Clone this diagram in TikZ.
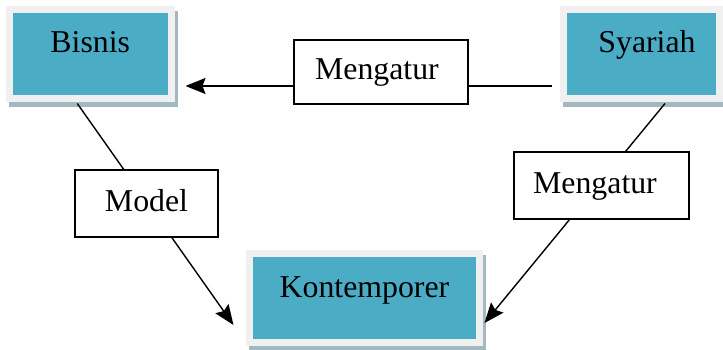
\documentclass[tikz,border=0pt]{standalone}
\usepackage{fontspec}
\setmainfont{Liberation Serif}
\usetikzlibrary{arrows.meta,shadows}
\definecolor{tealbox}{HTML}{4BACC6}
\definecolor{framegray}{HTML}{F0F0F0}
\definecolor{shadowc}{HTML}{A3B9C1}
\tikzset{
  mainbox/.style={draw=framegray, line width=7pt, fill=tealbox, inner sep=0pt,
    minimum height=89pt, text height=22pt, text depth=24pt,
    drop shadow={shadow xshift=3pt, shadow yshift=-5pt, fill=shadowc, draw=shadowc, line width=7pt, opacity=1}},
  labelbox/.style={draw=black, line width=1.3pt, fill=white, inner sep=0pt,
    text height=22pt, text depth=7pt},
  conn/.style={draw=black, line width=1.4pt},
  arr/.style={conn, -{Stealth[length=20pt,width=16pt,inset=3pt]}}
}
\begin{document}
\begin{tikzpicture}[x=1pt,y=1pt,
  every node/.style={font=\fontsize{31.8}{36}\selectfont}]
\useasboundingbox (0,0) rectangle (723,349);
% main boxes
\node[mainbox, minimum width=162.5pt] (bi) at (90.25,295) {Bisnis};
\node[mainbox, minimum width=156pt] (sy) at (641.5,295) {\hspace*{11pt}Syariah};
\node[mainbox, minimum width=230pt] (kt) at (364.5,51) {Kontemporer};
% connectors
\draw[arr, shorten <=8.5pt, shorten >=10.5pt] ([yshift=-32pt]sy.west) -- ([yshift=-32pt]bi.east);
\draw[arr] ([xshift=-13pt,yshift=-1.5pt]bi.south) -- ([xshift=-12.5pt,yshift=-27pt]kt.west);
\draw[arr] ([xshift=23.5pt,yshift=-1.5pt]sy.south) -- ([xshift=1.5pt,yshift=-25pt]kt.east);
% label boxes
\node[labelbox, minimum width=174pt, minimum height=64pt] (m1) at (381,277) {Mengatur\hspace*{8pt}};
\node[labelbox, minimum width=143pt, minimum height=67pt] (md) at (146.5,145.5) {Model};
\node[labelbox, minimum width=175pt, minimum height=67pt] (m2) at (601.5,163.5) {Mengatur\hspace*{13pt}};
\end{tikzpicture}
\end{document}
